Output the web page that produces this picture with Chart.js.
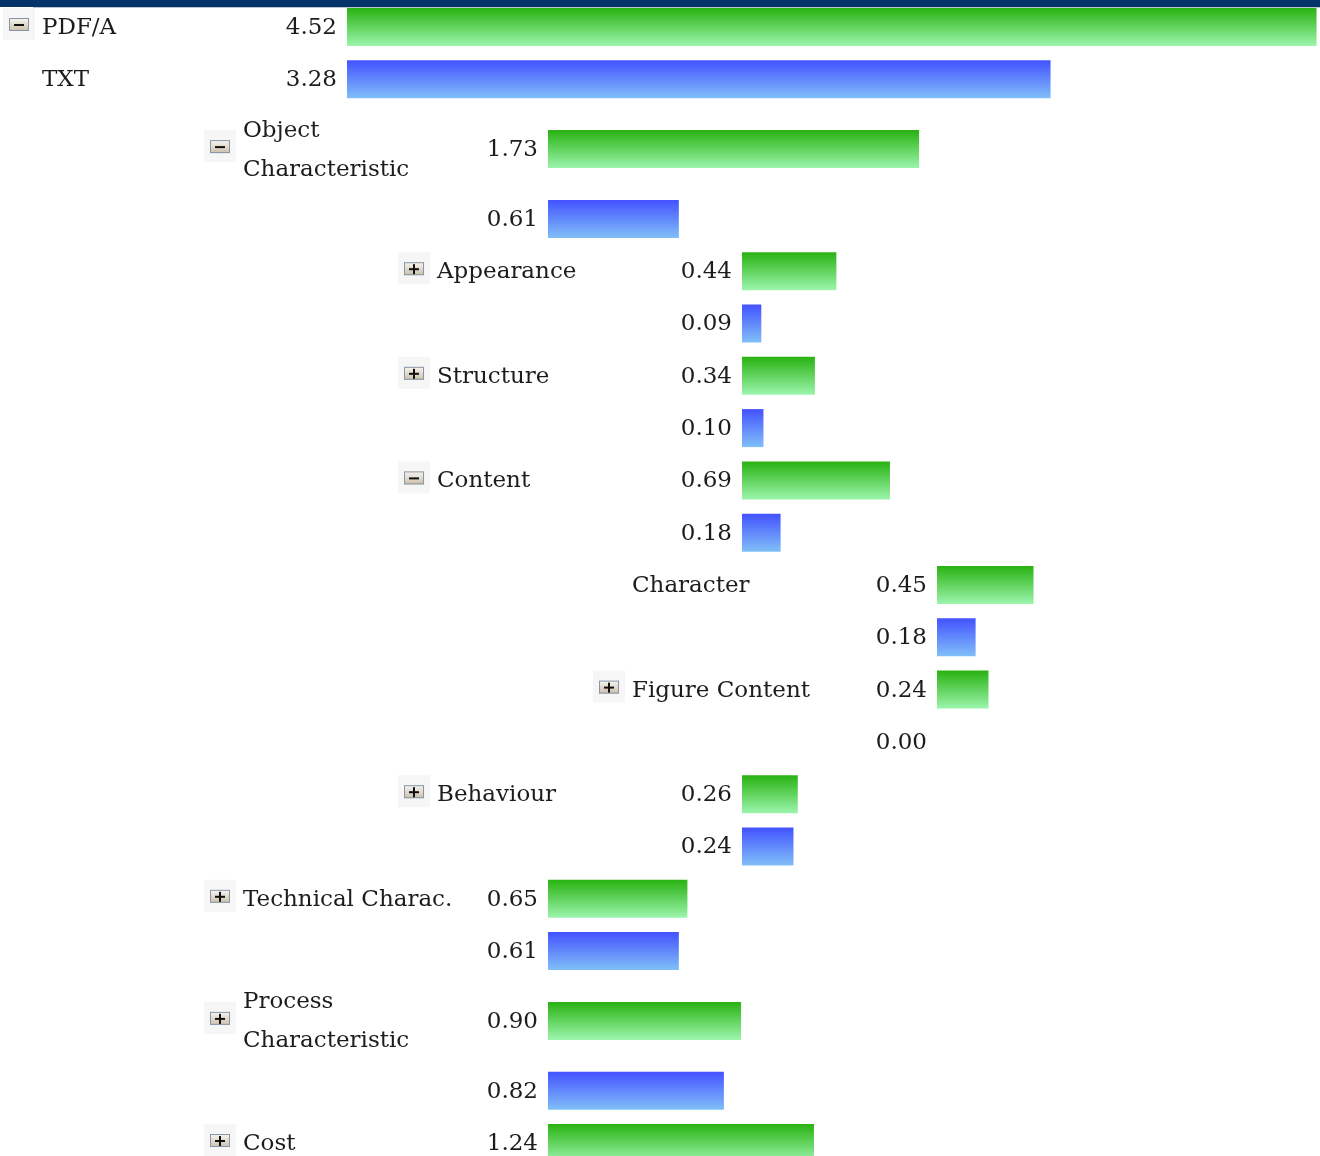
<!DOCTYPE html>
<html>
<head>
<meta charset="utf-8">
<script src="https://cdn.jsdelivr.net/npm/chart.js@4"></script>
<style>
  body { margin: 0; background: #fff; }
  #wrap { position: relative; width: 1320px; height: 1156px; }
</style>
</head>
<body>
<div id="wrap"><canvas id="mychart"></canvas></div>
<script>
// data
const categories = [
  "PDF/A",
  ["Object", "Characteristic"],
  "Appearance",
  "Structure",
  "Content",
  "Character",
  "Figure Content",
  "Behaviour",
  "Technical Charac.",
  ["Process", "Characteristic"],
  "Cost",
];
const levels = [0, 1, 2, 2, 2, 3, 3, 2, 1, 1, 1];
const expanders = ["-", "-", "+", "+", "-", "", "+", "+", "+", "+", "+"];
const seriesNames = ["PDF/A", "TXT"];
const pdfaValues = [4.52, 1.73, 0.44, 0.34, 0.69, 0.45, 0.24, 0.26, 0.65, 0.90, 1.24];
const txtValues = [3.28, 0.61, 0.09, 0.10, 0.18, 0.18, 0.00, 0.24, 0.61, 0.82, null];

// layout
const W = 1320, H = 1156;
const PX_PER_UNIT = 214.5;
const ROW_PX = 52.3;
const TALL_ROW_PX = 69.8;
const BAR_PX = 38;
const FIRST_ROW_PX = 27;
const levelStartPx = [347, 548, 742, 937];
const FONT = "23px 'DejaVu Serif'";
const TEXT_COLOR = "#1c1c1c";

function startOf(i) {
  return levelStartPx[levels[i]] / PX_PER_UNIT;
}

// row positions (in row units), two-line labels get taller rows
const greenPos = [];
const bluePos = [];
let pos = 0;
categories.forEach((c, i) => {
  const step = Array.isArray(c) ? TALL_ROW_PX / ROW_PX : 1;
  if (i > 0) pos += step;
  greenPos.push(pos);
  pos += step;
  bluePos.push(pos);
});

function barGradient(top, bottom) {
  return function (ctx) {
    const chart = ctx.chart;
    if (!chart.chartArea || !ctx.raw) return top;
    const yc = chart.scales.y.getPixelForValue(ctx.raw.y);
    const g = chart.ctx.createLinearGradient(0, yc - BAR_PX / 2, 0, yc + BAR_PX / 2);
    g.addColorStop(0, top);
    g.addColorStop(1, bottom);
    return g;
  };
}

function drawIcon(c, x, y, kind) {
  // faint hover square
  c.fillStyle = "#f6f6f6";
  c.fillRect(x - 6, y - 16, 32, 32);
  const g = c.createLinearGradient(0, y - 6, 0, y + 7);
  g.addColorStop(0, "#f7f6f2");
  g.addColorStop(1, "#cbbfa9");
  c.fillStyle = g;
  c.fillRect(x, y - 6, 20, 13);
  c.strokeStyle = "#8796a6";
  c.lineWidth = 1;
  c.strokeRect(x + 0.5, y - 5.5, 19, 12);
  c.fillStyle = "#111";
  c.fillRect(x + 5, y, 10, 2);
  if (kind === "+") c.fillRect(x + 9, y - 4, 2, 10);
}

const treePlugin = {
  id: "tree",
  beforeDraw(chart) {
    const c = chart.ctx;
    c.save();
    c.fillStyle = "#04336a";
    c.fillRect(0, 0, W, 7);
    c.fillStyle = "#b9c3cf";
    c.fillRect(33, 7, W - 33, 1);
    c.restore();
  },
  afterDatasetsDraw(chart) {
    const c = chart.ctx;
    const xs = chart.scales.x;
    const ys = chart.scales.y;
    c.save();
    c.font = FONT;
    c.textBaseline = "middle";
    categories.forEach((label, i) => {
      const barX = xs.getPixelForValue(startOf(i));
      const gy = ys.getPixelForValue(greenPos[i]);
      const by = ys.getPixelForValue(bluePos[i]);

      if (expanders[i]) drawIcon(c, barX - 338, gy - 3, expanders[i]);

      c.fillStyle = TEXT_COLOR;
      c.textAlign = "left";
      const lines = Array.isArray(label) ? label : [label];
      lines.forEach((ln, k) => {
        c.fillText(ln, barX - 305, gy + 1 + (k - (lines.length - 1) / 2) * 39);
      });
      if (i === 0) c.fillText(seriesNames[1], barX - 305, by + 1);

      c.textAlign = "right";
      c.fillText(pdfaValues[i].toFixed(2), barX - 10, gy + 1);
      if (txtValues[i] !== null) c.fillText(txtValues[i].toFixed(2), barX - 10, by + 1);
    });
    c.restore();
  },
};

const pdfaData = pdfaValues.map((v, i) => ({ x: [startOf(i), startOf(i) + v], y: greenPos[i] }));
const txtData = txtValues
  .map((v, i) => (v === null ? null : { x: [startOf(i), startOf(i) + v], y: bluePos[i] }))
  .filter((d) => d !== null);

var ctx = document.getElementById("mychart").getContext("2d");

var myChart = new Chart(ctx, {
  type: "bar",
  data: {
    datasets: [
      {
        label: seriesNames[0],
        data: pdfaData,
        backgroundColor: barGradient("#29b211", "#9cf5ad"),
        barThickness: BAR_PX,
        grouped: false,
        borderWidth: 0,
        inflateAmount: 0,
      },
      {
        label: seriesNames[1],
        data: txtData,
        backgroundColor: barGradient("#4352ff", "#80bff8"),
        barThickness: BAR_PX,
        grouped: false,
        borderWidth: 0,
        inflateAmount: 0,
      },
    ],
  },
  options: {
    indexAxis: "y",
    responsive: true,
    maintainAspectRatio: false,
    animation: false,
    layout: { padding: 0 },
    scales: {
      x: { type: "linear", display: false, offset: false, min: 0, max: W / PX_PER_UNIT },
      y: {
        type: "linear",
        display: false,
        offset: false,
        reverse: true,
        min: -FIRST_ROW_PX / ROW_PX,
        max: (H - FIRST_ROW_PX) / ROW_PX,
      },
    },
    plugins: {
      legend: { display: false },
      tooltip: { enabled: false },
    },
  },
  plugins: [treePlugin],
});
</script>
</body>
</html>
